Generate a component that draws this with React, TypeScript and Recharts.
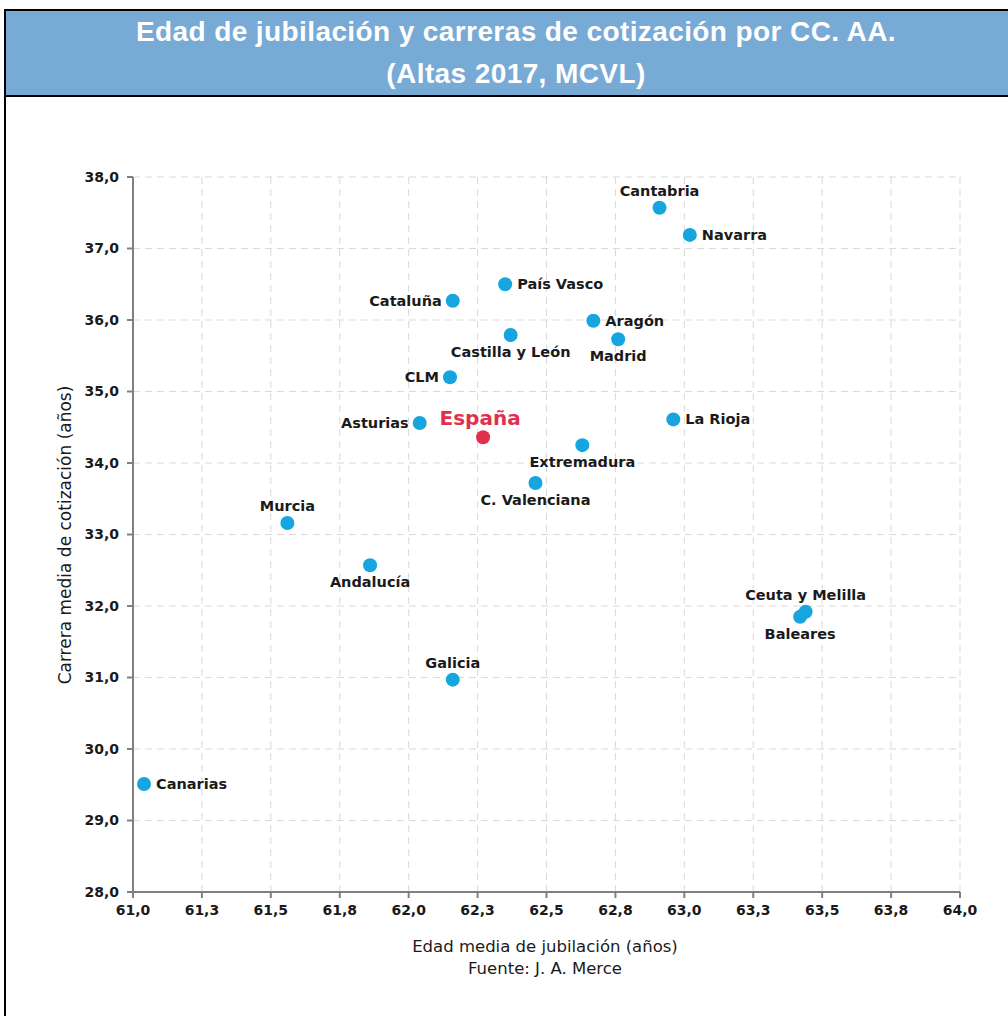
import React from 'react';
import { ScatterChart, Scatter, XAxis, YAxis, CartesianGrid } from 'recharts';

// Comunidades autónomas: edad media de jubilación (x) y carrera media de cotización (y)
const regions = [
  'Cantabria', 'Navarra', 'País Vasco', 'Cataluña', 'Aragón', 'Castilla y León',
  'Madrid', 'CLM', 'Asturias', 'La Rioja', 'Extremadura', 'C. Valenciana',
  'Murcia', 'Andalucía', 'Ceuta y Melilla', 'Baleares', 'Galicia', 'Canarias',
];
const retirementAge = [
  62.91, 63.02, 62.35, 62.16, 62.67, 62.37,
  62.76, 62.15, 62.04, 62.96, 62.63, 62.46,
  61.56, 61.86, 63.44, 63.42, 62.16, 61.04,
];
const contributionYears = [
  37.57, 37.19, 36.50, 36.27, 35.99, 35.79,
  35.73, 35.20, 34.56, 34.61, 34.25, 33.72,
  33.16, 32.57, 31.92, 31.85, 30.97, 29.51,
];

const spainAge = 62.27;
const spainYears = 34.36;

const xTicks = [61, 61.25, 61.5, 61.75, 62, 62.25, 62.5, 62.75, 63, 63.25, 63.5, 63.75, 64];
const xTickLabels = ['61,0', '61,3', '61,5', '61,8', '62,0', '62,3', '62,5', '62,8', '63,0', '63,3', '63,5', '63,8', '64,0'];
const yTicks = [28, 29, 30, 31, 32, 33, 34, 35, 36, 37, 38];
const yTickLabels = ['28,0', '29,0', '30,0', '31,0', '32,0', '33,0', '34,0', '35,0', '36,0', '37,0', '38,0'];

// where each label sits relative to its dot
const labelSide: Record<string, string> = {
  'Cantabria': 'top', 'Navarra': 'right', 'País Vasco': 'right', 'Cataluña': 'left',
  'Aragón': 'right', 'Castilla y León': 'bottom', 'Madrid': 'bottom', 'CLM': 'left',
  'Asturias': 'left', 'La Rioja': 'right', 'Extremadura': 'bottom', 'C. Valenciana': 'bottom',
  'Murcia': 'top', 'Andalucía': 'bottom', 'Ceuta y Melilla': 'top', 'Baleares': 'bottom',
  'Galicia': 'top', 'Canarias': 'right', 'España': 'top',
};

const regionData = regions.map((name, i) => ({ name, x: retirementAge[i], y: contributionYears[i] }));
const spainData = [{ name: 'España', x: spainAge, y: spainYears }];

const FONT = '"DejaVu Sans", sans-serif';

const Dot = (props: any) => {
  const { cx, cy, payload, fill } = props;
  const side = labelSide[payload.name] || 'right';
  const isSpain = payload.name === 'España';
  let tx = cx, ty = cy, anchor: any = 'middle';
  if (side === 'top') { ty = cy - 12; }
  if (side === 'bottom') { ty = cy + 22; }
  if (side === 'left') { tx = cx - 11; ty = cy + 5; anchor = 'end'; }
  if (side === 'right') { tx = cx + 12; ty = cy + 5; anchor = 'start'; }
  if (isSpain) { tx = cx - 3; ty = cy - 12; }
  return (
    <g>
      <circle cx={cx} cy={cy} r={7} fill={fill} />
      <text
        x={tx}
        y={ty}
        textAnchor={anchor}
        fontFamily={FONT}
        fontWeight={700}
        fontSize={isSpain ? 20 : 14.5}
        fill={isSpain ? '#e0304e' : '#1a1a1a'}
      >
        {payload.name}
      </text>
    </g>
  );
};

const tickStyle = { fontFamily: FONT, fontWeight: 700, fontSize: 14, fill: '#1a1a1a' };

export default function App() {
  return (
    <div style={{ position: 'absolute', left: 0, top: 0, width: 1008, height: 1016, overflow: 'hidden', background: '#fff' }}>
      <div style={{ position: 'absolute', left: 4, top: 9, width: 1060, height: 1040, border: '2px solid #000', boxSizing: 'border-box' }}>
        <div style={{
          height: 86, background: '#78aad6', borderBottom: '2px solid #000', boxSizing: 'border-box',
          width: 1020, color: '#fff', fontFamily: '"Liberation Sans", Arial, sans-serif', fontWeight: 700,
          fontSize: 28, letterSpacing: 0.4, textAlign: 'center', lineHeight: '42px',
        }}>
          <div>Edad de jubilación y carreras de cotización por CC. AA.</div>
          <div>(Altas 2017, MCVL)</div>
        </div>
      </div>

      <div style={{ position: 'absolute', left: 0, top: 0 }}>
        <ScatterChart width={1008} height={1016} margin={{ top: 177, right: 48, bottom: 94, left: 73 }}>
          <CartesianGrid stroke="#d9d9d9" strokeDasharray="7 5" horizontalValues={yTicks} verticalValues={xTicks} />
          <XAxis
            type="number"
            dataKey="x"
            domain={[61, 64]}
            ticks={xTicks}
            tickFormatter={(v: number) => xTickLabels[xTicks.indexOf(v)]}
            height={30}
            stroke="#808080"
            strokeWidth={2}
            tickSize={6}
            tickMargin={7}
            tick={tickStyle}
            interval={0}
          />
          <YAxis
            type="number"
            dataKey="y"
            domain={[28, 38]}
            ticks={yTicks}
            tickFormatter={(v: number) => yTickLabels[yTicks.indexOf(v)]}
            width={60}
            stroke="#808080"
            strokeWidth={2}
            tickSize={6}
            tickMargin={8}
            tick={tickStyle}
            interval={0}
          />
          <Scatter data={regionData} fill="#16a5de" shape={Dot} isAnimationActive={false} />
          <Scatter data={spainData} fill="#e0304e" shape={Dot} isAnimationActive={false} />
        </ScatterChart>
      </div>

      <div style={{
        position: 'absolute', left: 65, top: 535, transform: 'translate(-50%, -50%) rotate(-90deg)',
        whiteSpace: 'nowrap', fontFamily: FONT, fontSize: 17, color: '#1a1a1a',
      }}>
        Carrera media de cotización (años)
      </div>
      <div style={{
        position: 'absolute', left: 545, top: 946, transform: 'translate(-50%, -50%)',
        whiteSpace: 'nowrap', fontFamily: FONT, fontSize: 16.5, color: '#1a1a1a',
      }}>
        Edad media de jubilación (años)
      </div>
      <div style={{
        position: 'absolute', left: 545, top: 968, transform: 'translate(-50%, -50%)',
        whiteSpace: 'nowrap', fontFamily: FONT, fontSize: 16.5, color: '#1a1a1a',
      }}>
        Fuente: J. A. Merce
      </div>
    </div>
  );
}
